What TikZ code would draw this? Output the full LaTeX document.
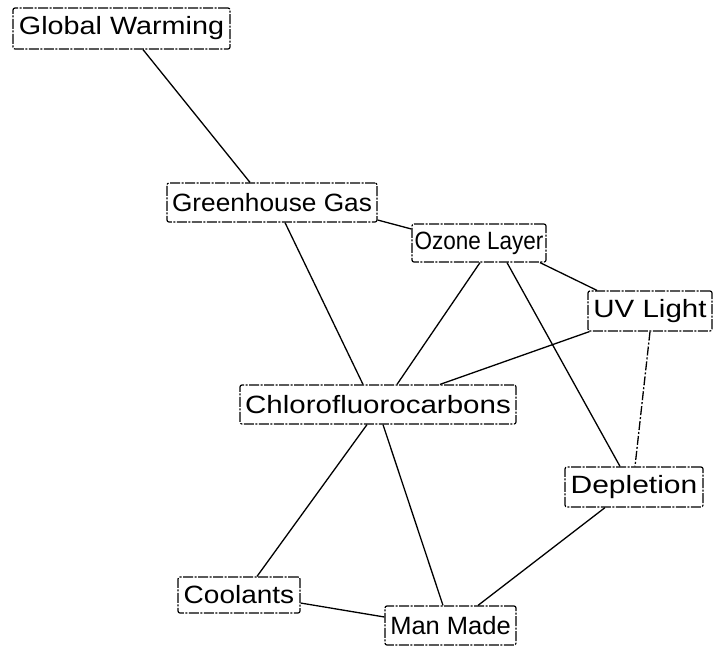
\documentclass[tikz,border=0pt]{standalone}
\usepackage{fontspec}
\usepackage{graphicx}
\setmainfont{Liberation Sans}
\newcommand\lbl[2]{\scalebox{#1}[1]{#2}}
\tikzset{
  conceptbox/.style={draw=black, line width=1.2pt, rounded corners=2pt,
    dash pattern=on 10pt off 1.5pt on 2pt off 1.5pt,
    inner sep=0pt, anchor=center, text=black,
    font=\fontsize{25}{30}\selectfont},
  link/.style={draw=black, line width=1.3pt},
  dlink/.style={link, dash pattern=on 9pt off 2pt on 2pt off 2pt}
}
\begin{document}
\begin{tikzpicture}[x=1pt, y=-1pt]
\useasboundingbox (0,0) rectangle (717,646);
\node[conceptbox, minimum width=217pt, minimum height=41pt] (gw)   at (121.5,28.5) {\lbl{1.15}{Global Warming}};
\node[conceptbox, minimum width=210pt, minimum height=39pt] (gg)   at (272,202.5)  {\lbl{1.05}{Greenhouse Gas}};
\node[conceptbox, minimum width=134pt, minimum height=38pt] (oz)   at (479,243)    {\lbl{0.9}{Ozone Layer}};
\node[conceptbox, minimum width=124pt, minimum height=40pt] (uv)   at (650,311)    {\lbl{1.18}{UV Light}};
\node[conceptbox, minimum width=276pt, minimum height=39pt] (cfc)  at (378,404.5)  {\lbl{1.18}{Chlorofluorocarbons}};
\node[conceptbox, minimum width=138pt, minimum height=40pt] (dep)  at (634,487)    {\lbl{1.2}{Depletion}};
\node[conceptbox, minimum width=122pt, minimum height=36pt] (cool) at (239,595)    {\lbl{1.12}{Coolants}};
\node[conceptbox, minimum width=131pt, minimum height=39pt] (mm)   at (450.5,625.5){\lbl{1.02}{Man Made}};

\draw[link] ([xshift=21.5pt]gw.south) -- ([xshift=-22pt]gg.north);
\draw[link] ([yshift=-17.5pt]gg.east) -- ([yshift=14pt]oz.west);
\draw[link] ([xshift=13pt]gg.south) -- ([xshift=-15pt]cfc.north);
\draw[link] ([xshift=1pt]oz.south) -- ([xshift=19pt]cfc.north);
\draw[link] ([xshift=28pt]oz.south) -- ([xshift=-14pt]dep.north);
\draw[link] ([xshift=61pt]oz.south) -- ([xshift=-53pt]uv.north);
\draw[link] ([xshift=2pt]uv.south west) -- ([xshift=62pt]cfc.north);
\draw[dlink] (uv.south) -- ([xshift=1pt]dep.north);
\draw[link] ([xshift=-11pt]cfc.south) -- ([xshift=18pt]cool.north);
\draw[link] ([xshift=5pt]cfc.south) -- ([xshift=-7.5pt]mm.north);
\draw[link] ([xshift=-29pt]dep.south) -- ([xshift=27.5pt]mm.north);
\draw[link] ([yshift=-8pt]cool.east) -- ([yshift=8.5pt]mm.west);
\end{tikzpicture}
\end{document}
